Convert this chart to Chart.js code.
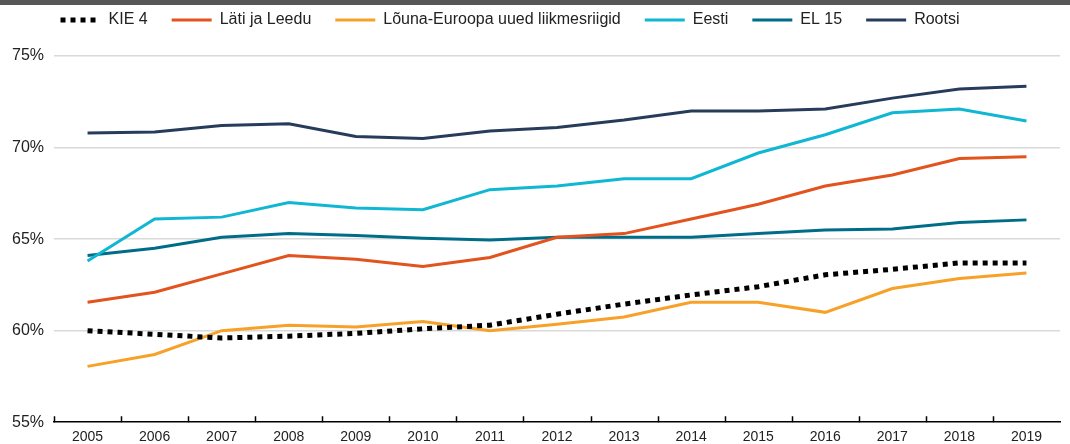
<!DOCTYPE html>
<html>
<head>
<meta charset="utf-8">
<script src="https://cdn.jsdelivr.net/npm/chart.js@4.4.1/dist/chart.umd.min.js"></script>
<style>
  html, body { margin: 0; padding: 0; background: #fff; }
  #wrap { position: relative; width: 1070px; height: 444px; }
  #topbar { position: absolute; left: 0; top: 0; width: 1070px; height: 5px; background: #575757; }
</style>
</head>
<body>
<div id="wrap">
  <div id="topbar"></div>
  <canvas id="myChart" width="1070" height="444"></canvas>
</div>
<script>
const years = ['2005', '2006', '2007', '2008', '2009', '2010', '2011', '2012', '2013', '2014', '2015', '2016', '2017', '2018', '2019'];

const kie4 = [60.0, 59.8, 59.6, 59.7, 59.85, 60.1, 60.3, 60.9, 61.45, 61.95, 62.4, 63.05, 63.35, 63.7, 63.7];
const latiLeedu = [61.55, 62.1, 63.1, 64.1, 63.9, 63.5, 64.0, 65.1, 65.3, 66.1, 66.9, 67.9, 68.5, 69.4, 69.5];
const lounaEuroopa = [58.05, 58.7, 60.0, 60.3, 60.2, 60.5, 60.0, 60.35, 60.75, 61.55, 61.55, 61.0, 62.3, 62.85, 63.15];
const eesti = [63.8, 66.1, 66.2, 67.0, 66.7, 66.6, 67.7, 67.9, 68.3, 68.3, 69.7, 70.7, 71.9, 72.1, 71.45];
const el15 = [64.1, 64.5, 65.1, 65.3, 65.2, 65.05, 64.95, 65.1, 65.1, 65.1, 65.3, 65.5, 65.55, 65.9, 66.05];
const rootsi = [70.8, 70.85, 71.2, 71.3, 70.6, 70.5, 70.9, 71.1, 71.5, 72.0, 72.0, 72.1, 72.7, 73.2, 73.35];

const yTicks = [55, 60, 65, 70, 75];

const FONT = 'Liberation Sans, Arial, sans-serif';

// short tick marks pointing up from the x axis, between the years
const upTicks = {
    id: 'upTicks',
    afterDraw(chart) {
        const xs = chart.scales.x;
        const ctx = chart.ctx;
        const bottom = chart.chartArea.bottom;
        const half = (xs.getPixelForValue(1) - xs.getPixelForValue(0)) / 2;
        ctx.save();
        ctx.strokeStyle = '#000';
        ctx.lineWidth = 1.5;
        ctx.beginPath();
        for (let i = 0; i < years.length; i++) {
            const px = Math.round(xs.getPixelForValue(i) - half) + 0.5;
            ctx.moveTo(px, bottom);
            ctx.lineTo(px, bottom - 6);
        }
        ctx.stroke();
        ctx.restore();
    }
};

// legend row: fixed height, nudged a bit left like the original
const legendFix = {
    id: 'legendFix',
    beforeUpdate(chart) {
        const lg = chart.legend;
        if (lg && !lg._fixed) {
            const fit = lg.fit;
            lg.fit = function () {
                fit.call(this);
                this.height = 68;
            };
            lg._fixed = true;
        }
    },
    afterLayout(chart) {
        chart.legend.left -= 21;
        chart.legend.right -= 21;
    }
};

function line(label, data, color, width, dash) {
    return {
        label: label,
        data: data,
        borderColor: color,
        backgroundColor: color,
        borderWidth: width,
        borderDash: dash || [],
        borderCapStyle: 'butt',
        pointRadius: 0,
        tension: 0,
        fill: false
    };
}

const ctx = document.getElementById('myChart').getContext('2d');
const chart = new Chart(ctx, {
    type: 'line',
    data: {
        labels: years,
        datasets: [
            line('KIE 4', kie4, '#000000', 5, [5, 5]),
            line('Läti ja Leedu', latiLeedu, '#e2531d', 3),
            line('Lõuna-Euroopa uued liikmesriigid', lounaEuroopa, '#f7a128', 3),
            line('Eesti', eesti, '#10b7d3', 3),
            line('EL 15', el15, '#006d88', 3),
            line('Rootsi', rootsi, '#273c5b', 3)
        ]
    },
    options: {
        responsive: false,
        animation: false,
        layout: { padding: { top: -12, right: 10, left: 2, bottom: -9 } },
        plugins: {
            legend: {
                position: 'top',
                labels: {
                    usePointStyle: true,
                    pointStyle: 'line',
                    pointStyleWidth: 40,
                    boxHeight: 16,
                    padding: 24,
                    color: '#222',
                    font: { family: FONT, size: 16 },
                    generateLabels(chart) {
                        const items = Chart.defaults.plugins.legend.labels.generateLabels(chart);
                        items.forEach(it => {
                            const ds = chart.data.datasets[it.datasetIndex];
                            it.lineDash = ds.borderDash;
                            it.lineWidth = ds.borderWidth;
                            it.strokeStyle = ds.borderColor;
                            it.lineCap = 'butt';
                        });
                        return items;
                    }
                }
            },
            tooltip: { enabled: false }
        },
        scales: {
            x: {
                offset: true,
                grid: { display: false, drawTicks: false },
                border: { display: true, color: '#000', width: 1.5 },
                ticks: {
                    padding: 7,
                    color: '#222',
                    maxRotation: 0,
                    font: { family: FONT, size: 14 }
                }
            },
            y: {
                min: 55,
                max: 75,
                afterBuildTicks(scale) {
                    scale.ticks = yTicks.map(v => ({ value: v }));
                },
                grid: {
                    color: c => c.tick && c.tick.value === 55 ? 'rgba(0,0,0,0)' : '#d9d9d9',
                    lineWidth: 1.5,
                    drawTicks: false
                },
                border: { display: false },
                ticks: {
                    padding: 10,
                    color: '#222',
                    callback: v => v + '%',
                    font: { family: FONT, size: 16 }
                }
            }
        }
    },
    plugins: [upTicks, legendFix]
});
</script>
</body>
</html>
